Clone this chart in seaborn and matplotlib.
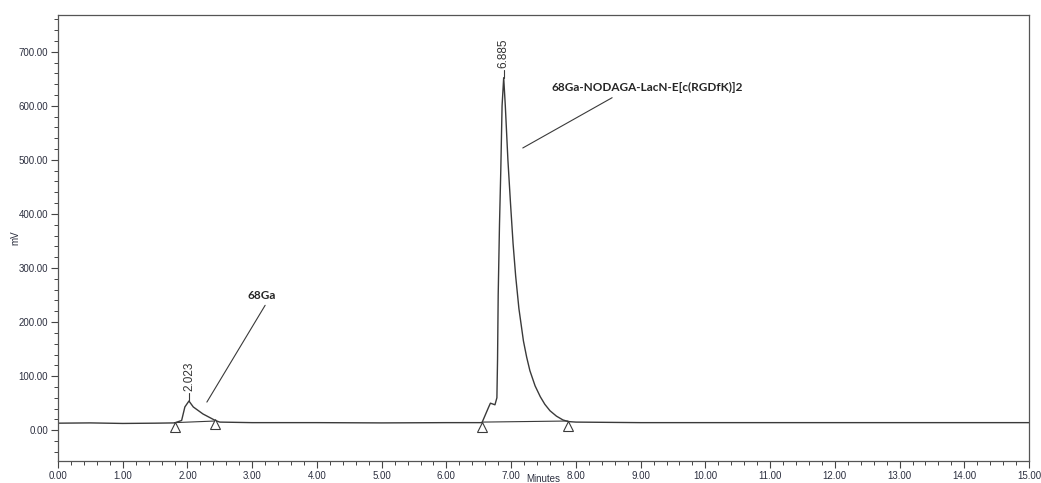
import pandas as pd
import seaborn as sns
import matplotlib
import matplotlib.pyplot as plt
from matplotlib.ticker import MultipleLocator, FormatStrFormatter

matplotlib.use('Agg')

# chromatogram trace (minutes, mV)
time_min = [0.00, 0.50, 1.00, 1.50, 1.80, 1.91, 1.96, 2.023, 2.09, 2.24, 2.43, 2.50,
            3.00, 4.00, 5.00, 6.00, 6.50, 6.55, 6.60, 6.65, 6.68, 6.75, 6.78, 6.79,
            6.80, 6.82, 6.84, 6.86, 6.885, 6.91, 6.95, 6.99, 7.03, 7.07, 7.12, 7.19,
            7.24, 7.29, 7.37, 7.45, 7.52, 7.60, 7.70, 7.80, 7.88, 8.00, 9.00, 10.00,
            11.00, 12.00, 13.00, 14.00, 15.00]
signal_mv = [13, 13.5, 12.5, 13, 13.5, 18, 43, 54, 43, 30, 18, 15,
             14, 14, 13.5, 14, 14, 14, 28, 42, 50, 47, 60, 130,
             250, 380, 480, 600, 652, 600, 500, 420, 345, 285, 225, 165,
             135, 110, 82, 62, 48, 36, 26, 19, 16, 15, 14, 14,
             14, 14, 14, 14, 14]

# integration start/end marks
mark_time = [1.80, 2.43, 6.55, 7.88]
mark_mv = [5.5, 11, 5.5, 7]
# drop lines (baseline segments under each peak)
base_start = [1.80, 6.55]
base_end = [2.43, 7.88]
base_start_mv = [14, 15]
base_end_mv = [17, 17]

peak_times = [2.023, 6.885]
peak_heights = [54, 652]
peak_labels = ['2.023', '6.885']

df = pd.DataFrame({'Minutes': time_min, 'mV': signal_mv})

sns.set_style('white')
plt.rcParams['font.family'] = ['Liberation Sans', 'DejaVu Sans']

fig = plt.figure(figsize=(10.41, 4.83), dpi=100)
ax = fig.add_axes([0.0557, 0.0455, 0.9328, 0.9235])

line_col = '#3a3a3a'
sns.lineplot(data=df, x='Minutes', y='mV', ax=ax, color=line_col, linewidth=1.0)

for x0, x1, y0, y1 in zip(base_start, base_end, base_start_mv, base_end_mv):
    ax.plot([x0, x1], [y0, y1], color=line_col, linewidth=0.8)

ax.plot(mark_time, mark_mv, linestyle='none', marker='^', markersize=7,
        markerfacecolor='white', markeredgecolor=line_col, markeredgewidth=0.8)

for t, h, lab in zip(peak_times, peak_heights, peak_labels):
    ax.plot([t, t], [h, h + 14], color=line_col, linewidth=0.8)
    ax.text(t, h + 18, lab, rotation=90, ha='center', va='bottom',
            fontsize=8.5, color='#333333')

# compound annotations
bold_font = ['Lato', 'DejaVu Sans']
ax.text(3.15, 250, '68Ga', ha='center', va='center', fontsize=8.5,
        fontweight='bold', family=bold_font)
ax.plot([3.20, 2.30], [231, 52], color=line_col, linewidth=0.8)
ax.text(7.63, 633, '68Ga-NODAGA-LacN-E[c(RGDfK)]2', ha='left', va='center',
        fontsize=8.5, fontweight='bold', family=bold_font)
ax.plot([7.18, 8.56], [522, 615], color=line_col, linewidth=0.8)

ax.set_xlim(0, 15)
ax.set_ylim(-57, 768)
ax.xaxis.set_major_locator(MultipleLocator(1))
ax.xaxis.set_minor_locator(MultipleLocator(0.2))
ax.yaxis.set_major_locator(MultipleLocator(100))
ax.yaxis.set_minor_locator(MultipleLocator(20))
ax.xaxis.set_major_formatter(FormatStrFormatter('%.2f'))
ax.yaxis.set_major_formatter(FormatStrFormatter('%.2f'))
ax.tick_params(axis='both', which='major', direction='out', length=5, width=0.8,
               labelsize=7, colors='#444444', labelcolor='#2d3040', pad=2,
               bottom=True, left=True)
ax.tick_params(axis='both', which='minor', direction='out', length=3, width=0.7,
               colors='#444444', bottom=True, left=True)

ax.set_xlabel('Minutes', fontsize=7, color='#2d3040')
ax.set_ylabel('mV', fontsize=7, color='#2d3040')
ax.xaxis.set_label_coords(0.5, -0.029)
ax.yaxis.set_label_coords(-0.039, 0.5)

for sp in ax.spines.values():
    sp.set_color('#555555')
    sp.set_linewidth(0.9)

fig.savefig('out.png', dpi=100)
